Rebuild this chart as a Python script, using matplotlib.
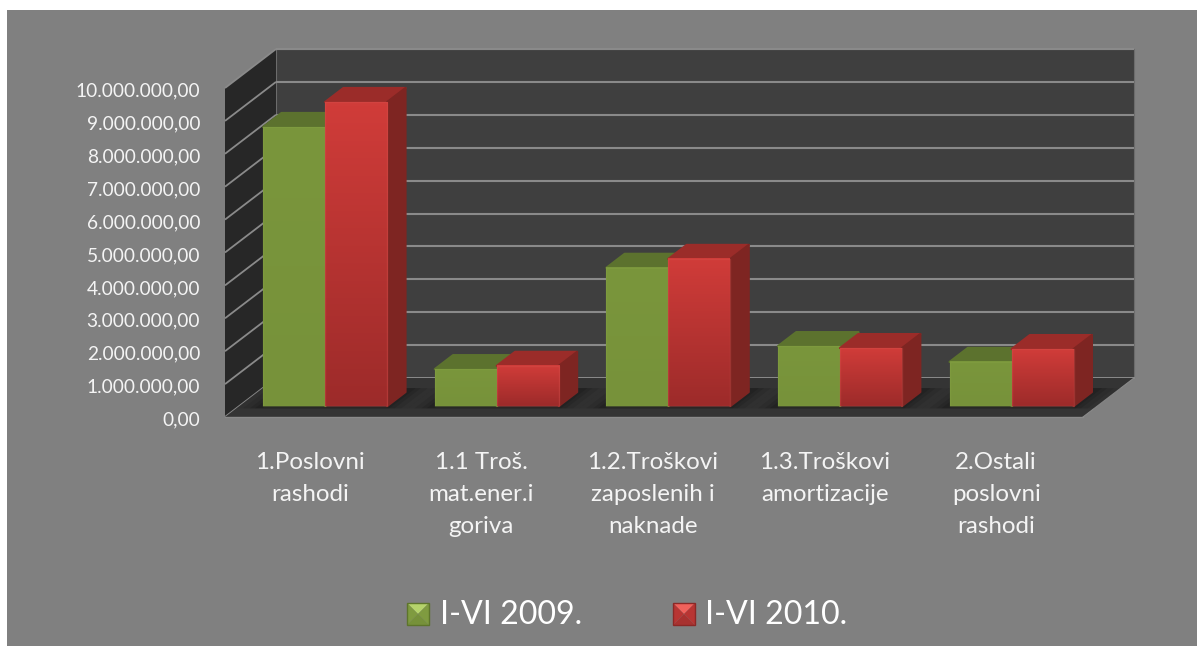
import numpy as np
import matplotlib
matplotlib.use('Agg')
import matplotlib.pyplot as plt
from matplotlib.colors import LinearSegmentedColormap
from matplotlib.patches import Polygon, Rectangle
from matplotlib.transforms import Affine2D

# Data
categories = ['1.Poslovni\nrashodi', '1.1 Troš.\nmat.ener.i\ngoriva', '1.2.Troškovi\nzaposlenih i\nnaknade',
              '1.3.Troškovi\namortizacije', '2.Ostali\nposlovni\nrashodi']
series_names = ['I-VI 2009.', 'I-VI 2010.']
values_2009 = [8480000, 1120000, 4200000, 1820000, 1340000]
values_2010 = [9240000, 1220000, 4470000, 1760000, 1730000]
y_ticks = [0, 1000000, 2000000, 3000000, 4000000, 5000000, 6000000, 7000000, 8000000, 9000000, 10000000]
y_labels = ['0,00', '1.000.000,00', '2.000.000,00', '3.000.000,00', '4.000.000,00', '5.000.000,00',
            '6.000.000,00', '7.000.000,00', '8.000.000,00', '9.000.000,00', '10.000.000,00']

W, H = 1197, 646
plt.rcParams['font.family'] = ['Lato', 'DejaVu Sans']
fig = plt.figure(figsize=(W / 100, H / 100), dpi=100, facecolor='white')
ax = fig.add_axes([0, 0, 1, 1])
ax.axis('off')

# chart scales: one category = 171.6 px, one million = 32.9 px
CAT = 171.6
MIL = 32.9 / 1e6
X0, Y0 = 225, 417
DX = 51 / CAT      # depth of the box on screen
DY = 39 / MIL
x_lim = (-X0 / CAT, (W - X0) / CAT)
y_lim = ((Y0 - H) / MIL, Y0 / MIL)

# top-left pixel coordinates, for the background and legend only
pix = Affine2D().scale(1 / W, -1 / H).translate(0, 1) + fig.transFigure


def ob(x, v, d=0.0):
    return (x + d * DX, v + d * DY)


def grad(x0, x1, v0, v1, top, bottom, z):
    cmap = LinearSegmentedColormap.from_list('g', [top, bottom])
    ax.imshow(np.linspace(0, 1, 64).reshape(-1, 1), cmap=cmap, extent=(x0, x1, v0, v1),
              aspect='auto', zorder=z, interpolation='bilinear')


ax.add_patch(Rectangle((7, 10), W - 7, H - 10, transform=pix, fc='#808080', ec='none', zorder=0))

n = len(categories)
vmax = y_ticks[-1]

# walls and floor
ax.add_patch(Polygon([ob(0, 0, 1), ob(n, 0, 1), ob(n, vmax, 1), ob(0, vmax, 1)], fc='#3f3f3f', ec='#6c6c6c', lw=0.8, zorder=1))
ax.add_patch(Polygon([ob(0, 0), ob(0, 0, 1), ob(0, vmax, 1), ob(0, vmax)], fc='#272727', ec='none', zorder=1))
ax.add_patch(Polygon([ob(0, 0), ob(n, 0), ob(n, 0, 1), ob(0, 0, 1)], fc='#343434', ec='none', zorder=2))

# gridlines
for t in y_ticks:
    if t > 0:
        ax.plot(*zip(ob(0, t, 1), ob(n, t, 1)), color='#8a8a8a', lw=1.5, zorder=1.5, solid_capstyle='butt')
    ax.plot(*zip(ob(0, t), ob(0, t, 1)), color='#8a8a8a', lw=1.3, zorder=1.5, solid_capstyle='butt')
ax.plot(*zip(ob(0, 0), ob(n, 0)), color='#8a8a8a', lw=1.0, zorder=2.2)
ax.plot(*zip(ob(n, 0), ob(n, 0, 1)), color='#8a8a8a', lw=0.8, zorder=2.2)
ax.plot(*zip(ob(0, 0, 1), ob(n, 0, 1)), color='#8a8a8a', lw=1.4, zorder=1.6)

# bars
bar_w = 62 / CAT
d0, d1 = 11 / 39, 25 / 39
green = dict(top_c='#5c722e', side='#5c722e', f0='#7a963c', f1='#77923a', edge='#88a545')
red = dict(top_c='#9b2c29', side='#7e2522', f0='#d03c39', f1='#9d2b2a', edge='#d8524e')

z = 3.0
for i in range(n):
    left = i + 0.5 - bar_w
    # soft shadow on the floor
    for grow, alpha in zip([0.14, 0.10, 0.06, 0.03], [0.06, 0.08, 0.10, 0.12]):
        sx0, sx1 = left - grow, left + 2 * bar_w + grow
        ax.add_patch(Polygon([ob(sx0, 0, d0 - 0.06), ob(sx1, 0, d0 - 0.06), ob(sx1, 0, d1 + 0.1), ob(sx0, 0, d1 + 0.1)],
                             fc='black', alpha=alpha, ec='none', zorder=2.5))
    for j, (vals, st) in enumerate([(values_2009, green), (values_2010, red)]):
        x0 = left + j * bar_w
        x1 = x0 + bar_w
        v = vals[i]
        ax.add_patch(Polygon([ob(x0, v, d0), ob(x1, v, d0), ob(x1, v, d1), ob(x0, v, d1)],
                             fc=st['top_c'], ec=st['top_c'], lw=1.6, joinstyle='round', zorder=z))
        ax.add_patch(Polygon([ob(x1, 0, d0), ob(x1, 0, d1), ob(x1, v, d1), ob(x1, v, d0)],
                             fc=st['side'], ec=st['side'], lw=1.6, joinstyle='round', zorder=z))
        fx0, fv0 = ob(x0, 0, d0)
        fx1, fv1 = ob(x1, v, d0)
        grad(fx0, fx1, fv0, fv1, st['f0'], st['f1'], z + 0.1)
        ax.add_patch(Rectangle((fx0, fv0), fx1 - fx0, fv1 - fv0, fc='none', ec=st['edge'], lw=1.0, alpha=0.35, zorder=z + 0.2))
        z += 0.3

ax.set_xlim(x_lim)
ax.set_ylim(y_lim)

# axis text
TXT = '#f4f4f4'
for t, lab in zip(y_ticks, y_labels):
    ax.text(-25 / CAT, t - 3 / MIL, lab, color=TXT, fontsize=13.8, ha='right', va='center', zorder=6)
for i, lab in enumerate(categories):
    ax.text(i + 0.5 - 1 / CAT, -(452 - Y0) / MIL, lab, color=TXT, fontsize=17.4, ha='center', va='top',
            linespacing=1.65, zorder=6)

# legend
for (sx, tx), name, cols in zip([(407, 440), (673, 705)], series_names,
                                [('#b5d36b', '#7f9b40', '#76913a', '#5d752b'), ('#f0625c', '#b83533', '#a83230', '#8c2826')]):
    s = 22
    cx, cy = sx + s / 2, 614
    x0, x1, y0, y1 = sx, sx + s, cy - s / 2, cy + s / 2
    ax.add_patch(Polygon([(x0, y0), (x1, y0), (cx, cy)], transform=pix, fc=cols[0], ec='none', zorder=6))
    ax.add_patch(Polygon([(x0, y0), (x0, y1), (cx, cy)], transform=pix, fc=cols[1], ec='none', zorder=6))
    ax.add_patch(Polygon([(x1, y0), (x1, y1), (cx, cy)], transform=pix, fc=cols[1], ec='none', zorder=6))
    ax.add_patch(Polygon([(x0, y1), (x1, y1), (cx, cy)], transform=pix, fc=cols[2], ec='none', zorder=6))
    ax.add_patch(Rectangle((x0, y0), s, s, transform=pix, fc='none', ec=cols[3], lw=1, zorder=6.1))
    ax.text(tx, 615, name, transform=pix, color='white', fontsize=23.1, ha='left', va='center', zorder=6)

fig.savefig('out.png', dpi=100, facecolor='white')
